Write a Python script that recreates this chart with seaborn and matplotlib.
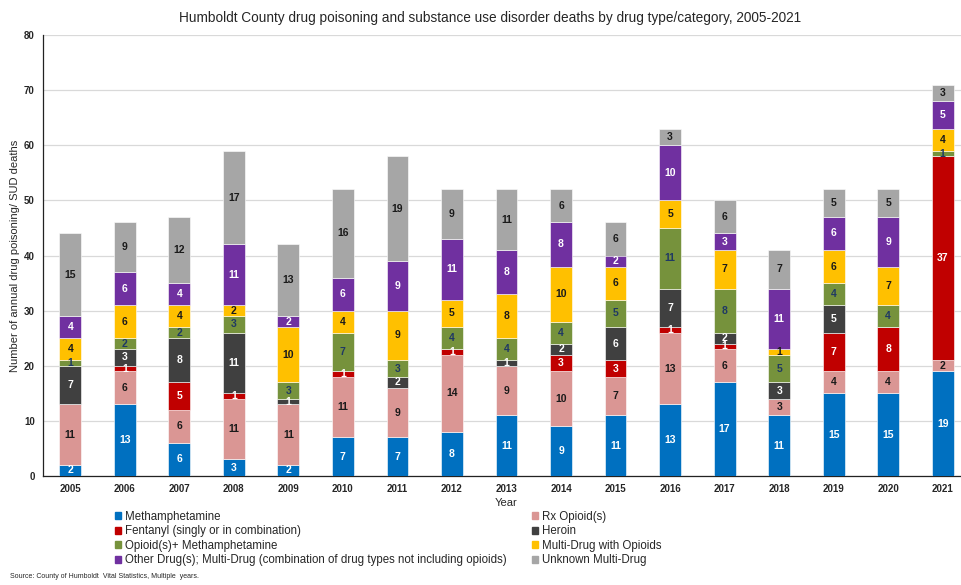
import matplotlib
matplotlib.use("Agg")
import matplotlib.pyplot as plt
import matplotlib.patches as mpatches
import seaborn as sns
import numpy as np
import pandas as pd

years = [str(y) for y in range(2005, 2022)]
categories = [
    "Methamphetamine",
    "Rx Opioid(s)",
    "Fentanyl (singly or in combination)",
    "Heroin",
    "Opioid(s)+ Methamphetamine",
    "Multi-Drug with Opioids",
    "Other Drug(s); Multi-Drug (combination of drug types not including opioids)",
    "Unknown Multi-Drug",
]
meth     = [2, 13, 6, 3, 2, 7, 7, 8, 11, 9, 11, 13, 17, 11, 15, 15, 19]
rx       = [11, 6, 6, 11, 11, 11, 9, 14, 9, 10, 7, 13, 6, 3, 4, 4, 2]
fentanyl = [0, 1, 5, 1, 0, 1, 0, 1, 0, 3, 3, 1, 1, 0, 7, 8, 37]
heroin   = [7, 3, 8, 11, 1, 0, 2, 0, 1, 2, 6, 7, 2, 3, 5, 0, 0]
op_meth  = [1, 2, 2, 3, 3, 7, 3, 4, 4, 4, 5, 11, 8, 5, 4, 4, 1]
multi_op = [4, 6, 4, 2, 10, 4, 9, 5, 8, 10, 6, 5, 7, 1, 6, 7, 4]
other    = [4, 6, 4, 11, 2, 6, 9, 11, 8, 8, 2, 10, 3, 11, 6, 9, 5]
unknown  = [15, 9, 12, 17, 13, 16, 19, 9, 11, 6, 6, 3, 6, 7, 5, 5, 3]

series = [meth, rx, fentanyl, heroin, op_meth, multi_op, other, unknown]
colors = ["#0070C0", "#DA9694", "#C00000", "#404040", "#76923C", "#FFC000", "#7030A0", "#A6A6A6"]
text_colors = ["white", "#1a1a1a", "white", "white", "#1F3864", "#1a1a1a", "white", "#1a1a1a"]

sns.set_theme(style="white")
plt.rcParams["font.family"] = ["Liberation Sans", "DejaVu Sans"]

fig = plt.figure(figsize=(9.62, 5.85), dpi=100)
ax = fig.add_axes([43/962, 1 - 476/585, (970 - 43)/962, (476 - 35)/585])

bottom = np.zeros(len(years))
for vals, col, tcol, name in zip(series, colors, text_colors, categories):
    df = pd.DataFrame({"Year": years, "Deaths": vals})
    sns.barplot(data=df, x="Year", y="Deaths", order=years, color=col, saturation=1,
                width=0.4, bottom=bottom, ax=ax, edgecolor="white", linewidth=0.4, zorder=3)
    for i, v in enumerate(vals):
        if v > 0:
            ax.text(i, bottom[i] + v / 2, str(v), ha="center", va="center",
                    fontsize=7.5, fontweight="bold", color=tcol, zorder=4)
    bottom = bottom + np.array(vals)

ax.set_ylim(0, 80)
ax.set_xlim(-0.5, 16.5)
ax.set_yticks(range(0, 81, 10))
ax.set_yticklabels([str(v) for v in range(0, 81, 10)], fontsize=7, fontweight="bold")
ax.set_xticks(range(len(years)))
ax.set_xticklabels(years, fontsize=7, fontweight="bold")
ax.set_xticks(np.arange(-0.5, 17, 1), minor=True)
ax.tick_params(axis="x", which="major", length=0, pad=6)
ax.tick_params(axis="x", which="minor", length=4, width=0.8, color="#333333", direction="out")
ax.tick_params(axis="y", which="major", length=4, width=0.8, color="#333333", direction="out", pad=2)
ax.yaxis.grid(True, color="#D9D9D9", linewidth=0.9, zorder=0)
ax.xaxis.grid(False)
for s in ["top", "right"]:
    ax.spines[s].set_visible(False)
ax.spines["left"].set_color("#222222")
ax.spines["bottom"].set_color("#222222")
ax.spines["left"].set_linewidth(0.9)
ax.spines["bottom"].set_linewidth(0.9)

ax.set_xlabel("Year", fontsize=8, labelpad=3)
ax.set_ylabel("Number of annual drug poisoning/ SUD deaths", fontsize=8, labelpad=3)

fig.text(490/962, 1 - 18/585, "Humboldt County drug poisoning and substance use disorder deaths by drug type/category, 2005-2021",
         ha="center", va="center", fontsize=9.8)

handles = [mpatches.Patch(color=c) for c in colors]
left_idx = [0, 2, 4, 6]
right_idx = [1, 3, 5, 7]
leg_kw = dict(frameon=False, fontsize=8.3, handlelength=0.55, handleheight=0.55,
              handletextpad=0.3, labelspacing=0.21, borderpad=0, borderaxespad=0)
leg1 = fig.legend([handles[i] for i in left_idx], [categories[i] for i in left_idx],
                  loc="upper left", bbox_to_anchor=(115/962, 1 - 511/585), **leg_kw)
leg2 = fig.legend([handles[i] for i in right_idx], [categories[i] for i in right_idx],
                  loc="upper left", bbox_to_anchor=(532/962, 1 - 511/585), **leg_kw)

fig.text(10/962, 1 - 577/585, "Source: County of Humboldt  Vital Statistics, Multiple  years.",
         ha="left", va="center", fontsize=5)

fig.savefig("out.png", dpi=100)
